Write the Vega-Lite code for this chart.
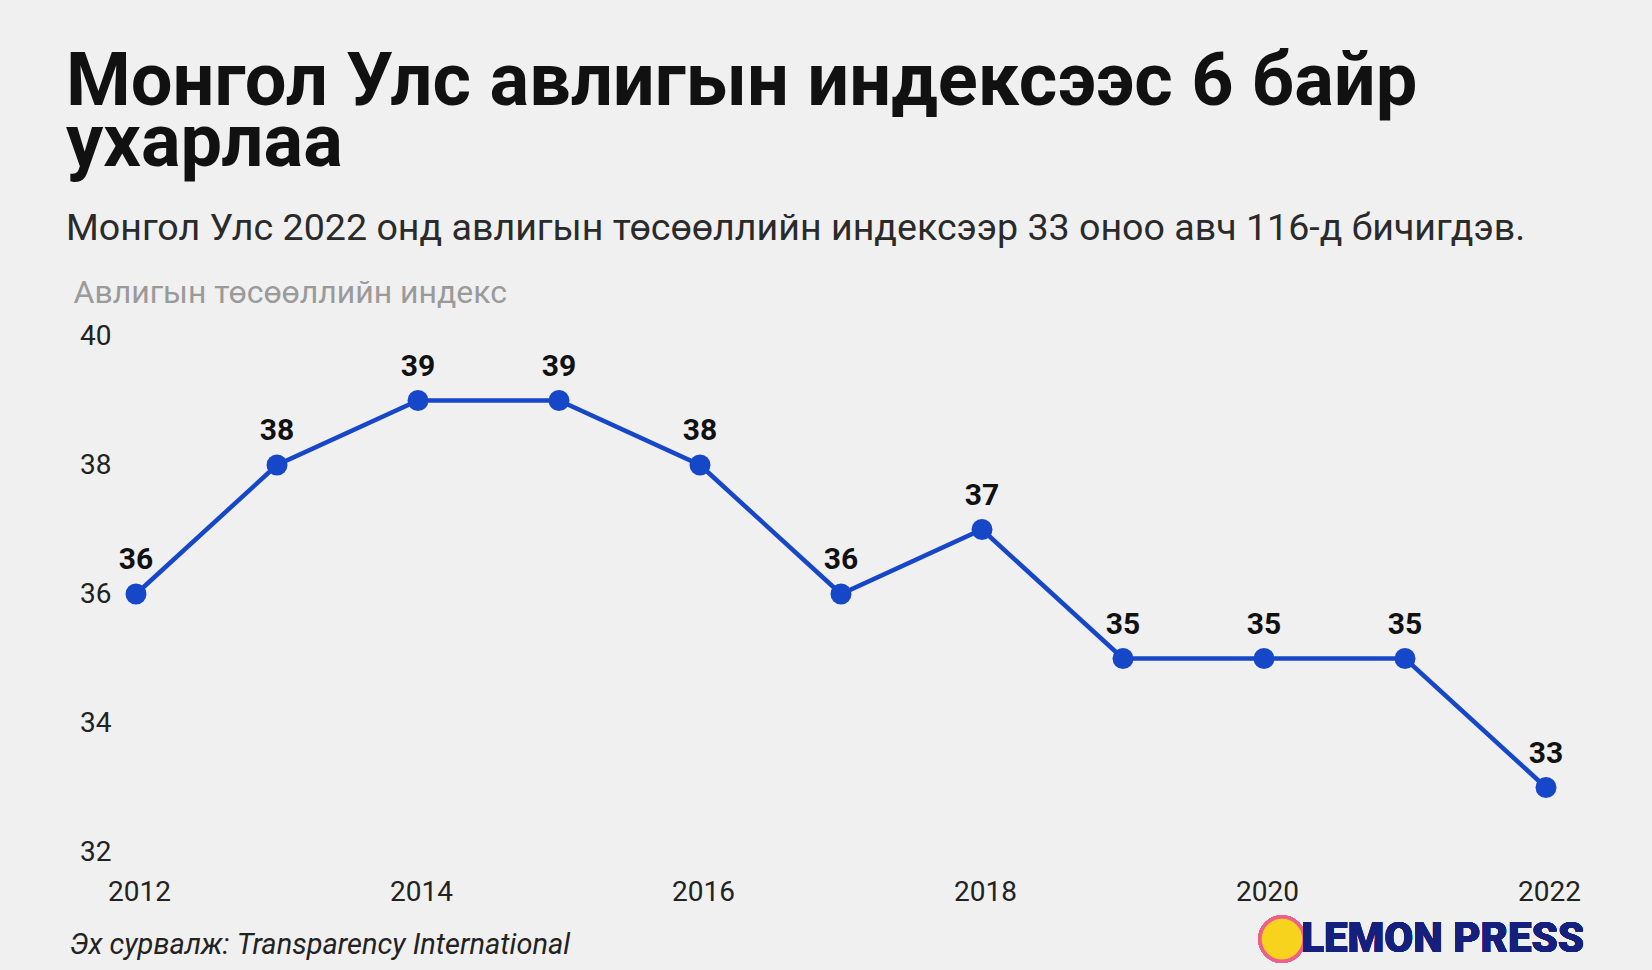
{
  "$schema": "https://vega.github.io/schema/vega-lite/v6.json",
  "width": 1410,
  "height": 516,
  "autosize": {"type": "none"},
  "padding": {"left": 136, "top": 336, "right": 106, "bottom": 118},
  "background": "#f0f0f0",
  "config": {
    "view": {"stroke": null},
    "font": "Roboto"
  },
  "title": {
    "text": ["Монгол Улс авлигын индексээс 6 байр", "ухарлаа"],
    "subtitle": "Монгол Улс 2022 онд авлигын төсөөллийн индексээр 33 оноо авч 116-д бичигдэв.",
    "anchor": "start",
    "frame": "group",
    "dx": -70,
    "offset": 27,
    "font": "Roboto",
    "fontSize": 74,
    "fontWeight": "bold",
    "lineHeight": 61,
    "color": "#111111",
    "subtitleFont": "Roboto",
    "subtitleFontSize": 37.6,
    "subtitleColor": "#2a2a2a",
    "subtitlePadding": 28
  },
  "data": {
    "values": [
      {"year": 2012, "score": 36},
      {"year": 2013, "score": 38},
      {"year": 2014, "score": 39},
      {"year": 2015, "score": 39},
      {"year": 2016, "score": 38},
      {"year": 2017, "score": 36},
      {"year": 2018, "score": 37},
      {"year": 2019, "score": 35},
      {"year": 2020, "score": 35},
      {"year": 2021, "score": 35},
      {"year": 2022, "score": 33}
    ]
  },
  "encoding": {
    "x": {
      "field": "year",
      "type": "quantitative",
      "scale": {"domain": [2012, 2022], "nice": false, "zero": false},
      "axis": {
        "values": [2012, 2014, 2016, 2018, 2020, 2022],
        "format": "d",
        "grid": false,
        "domain": false,
        "ticks": false,
        "labelFlush": false,
        "labelOffset": 3,
        "labelFont": "Roboto",
        "labelFontSize": 28,
        "labelColor": "#222222",
        "labelPadding": 26,
        "title": "Эх сурвалж: Transparency International",
        "titleFont": "Roboto",
        "titleFontSize": 29,
        "titleFontStyle": "italic",
        "titleFontWeight": "normal",
        "titleColor": "#222222",
        "titleAnchor": "start",
        "titleAlign": "left",
        "titleBaseline": "alphabetic",
        "titleX": -67,
        "titleY": 101
      }
    },
    "y": {
      "field": "score",
      "type": "quantitative",
      "scale": {"domain": [32, 40], "nice": false, "zero": false},
      "axis": {
        "values": [32, 34, 36, 38, 40],
        "grid": false,
        "domain": false,
        "ticks": false,
        "labelFont": "Roboto",
        "labelFontSize": 28,
        "labelColor": "#222222",
        "labelPadding": 25,
        "title": "Авлигын төсөөллийн индекс",
        "titleFont": "Roboto",
        "titleFontSize": 32,
        "titleFontWeight": "normal",
        "titleColor": "#9a9a9a",
        "titleAngle": 0,
        "titleAlign": "left",
        "titleAnchor": "start",
        "titleBaseline": "alphabetic",
        "titleX": -63,
        "titleY": -34
      }
    }
  },
  "layer": [
    {
      "mark": {"type": "line", "color": "#1747c9", "strokeWidth": 4.5}
    },
    {
      "mark": {"type": "point", "filled": true, "opacity": 1, "color": "#1747c9", "size": 440}
    },
    {
      "mark": {"type": "text", "font": "Roboto", "fontSize": 30, "fontWeight": "bold", "color": "#111111", "baseline": "alphabetic", "dy": -25},
      "encoding": {"text": {"field": "score", "type": "quantitative"}}
    },
    {
      "mark": {"type": "point", "shape": "circle", "filled": false, "fill": "#f8d31e", "fillOpacity": 1, "stroke": "#ef5f8c", "strokeWidth": 3.5, "opacity": 1, "size": 1950, "xOffset": -264},
      "encoding": {"x": {"datum": 2022}, "y": {"datum": 30.65}}
    },
    {
      "mark": {"type": "text", "text": "LEMON PRESS", "font": "Roboto", "fontSize": 42, "fontWeight": 900, "color": "#15207c", "align": "right", "baseline": "middle", "dx": 38},
      "encoding": {"x": {"datum": 2022}, "y": {"datum": 30.65}}
    }
  ]
}
